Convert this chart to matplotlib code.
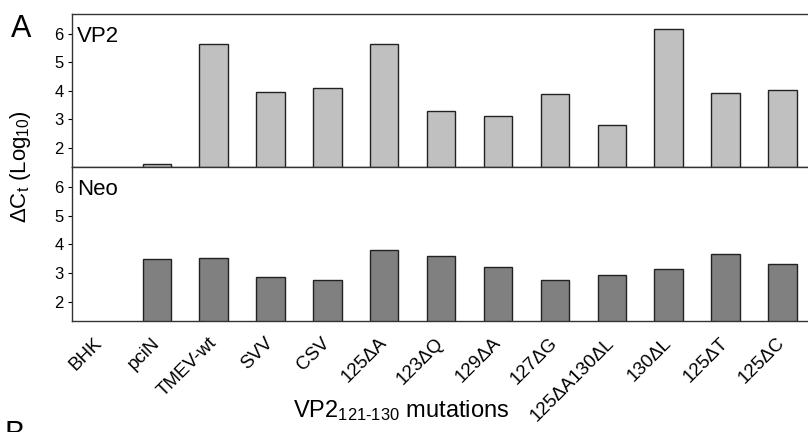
import numpy as np
import matplotlib
matplotlib.use('Agg')
import matplotlib.pyplot as plt

plt.rcParams['font.family'] = ['Liberation Sans', 'DejaVu Sans']
plt.rcParams['mathtext.fontset'] = 'custom'
plt.rcParams['mathtext.rm'] = 'Liberation Sans'
plt.rcParams['mathtext.it'] = 'Liberation Sans:italic'

# data (BHK has no bar)
mutations = ['BHK', 'pciN', 'TMEV-wt', 'SVV', 'CSV', '125\u0394A', '123\u0394Q',
             '129\u0394A', '127\u0394G', '125\u0394A130\u0394L', '130\u0394L',
             '125\u0394T', '125\u0394C']
vp2 = [np.nan, 1.44, 5.65, 3.97, 4.10, 5.64, 3.30, 3.12, 3.88, 2.82, 6.16, 3.94, 4.02]
neo = [np.nan, 3.48, 3.53, 2.85, 2.77, 3.80, 3.59, 3.20, 2.77, 2.95, 3.15, 3.67, 3.31]

x = np.arange(len(mutations))

fig = plt.figure(figsize=(8.08, 4.32), dpi=100)
ax1 = fig.add_axes([0.0891, 0.6134, 0.9109, 0.3542])
ax2 = fig.add_axes([0.0891, 0.2570, 0.9109, 0.3564])

for ax, vals, col, name in [(ax1, vp2, '#c0c0c0', 'VP2'), (ax2, neo, '#808080', 'Neo')]:
    ax.bar(x, vals, width=0.5, color=col, edgecolor='#222222', linewidth=1.0)
    ax.set_xlim(-0.49, 12.45)
    ax.set_ylim(1.33, 6.7)
    ax.set_yticks([2, 3, 4, 5, 6])
    ax.tick_params(axis='y', labelsize=12, length=3, width=0.8, pad=3)
    ax.tick_params(axis='x', length=0)
    for s in ax.spines.values():
        s.set_linewidth(1.0)
        s.set_color('#333333')
    ax.spines['right'].set_visible(False)
    ax.text(0.007, 0.815, name, transform=ax.transAxes, fontsize=16,
            va='baseline', ha='left')

ax1.set_xticks(x)
ax1.set_xticklabels([])
ax2.set_xticks(x)
ax2.set_xticklabels(mutations, rotation=45, ha='right', va='center',
                    rotation_mode='anchor', fontsize=13.5)
ax2.tick_params(axis='x', pad=14)

fig.text(0.025, 0.6134, '\u0394C$_\\mathregular{t}$ (Log$_\\mathregular{10}$)',
         rotation=90, fontsize=16, ha='center', va='center')
fig.text(0.496, 0.0347, 'VP2$_\\mathregular{121\u2010130}$ mutations', fontsize=17,
         ha='center', va='baseline')
fig.text(0.014, 0.914, 'A', fontsize=22, ha='left', va='baseline')
fig.text(0.005, 0.027, 'B', fontsize=22, ha='left', va='top')

plt.savefig('out.png', dpi=100)
